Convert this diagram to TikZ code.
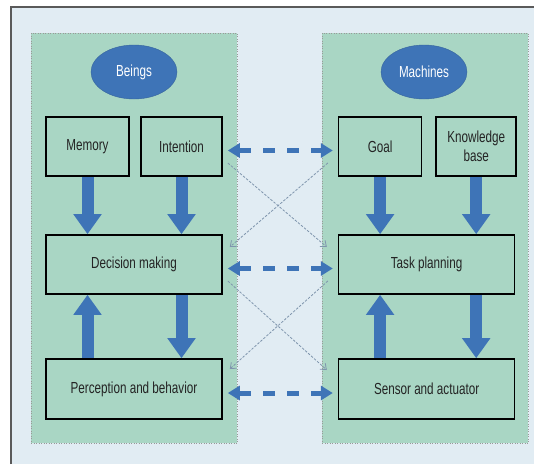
\documentclass[tikz,border=0pt]{standalone}
\usepackage{fontspec}
\setmainfont{Liberation Sans}[FakeStretch=0.73]
\usepackage{tikz}
\usetikzlibrary{arrows.meta,positioning,shapes.geometric}
\usepackage{xcolor}
\definecolor{bgblue}{HTML}{E1ECF3}
\definecolor{panelgreen}{HTML}{A9D6C4}
\definecolor{boxblue}{HTML}{3E74B7}
\definecolor{crossgray}{HTML}{7F95AD}
\definecolor{textgray}{HTML}{242424}
\definecolor{framegray}{HTML}{5A5A5A}

\begin{document}
\begin{tikzpicture}[x=1pt,y=-1pt,node distance=115pt,
                    font=\fontsize{16}{19}\selectfont]
  \tikzstyle{box}=[draw=black,line width=1.6pt,fill=panelgreen,text=textgray,
                   minimum height=59pt,inner sep=2pt,align=center]
  \tikzstyle{title}=[ellipse,fill=boxblue,draw=boxblue!85!black,text=white,
                     minimum width=86pt,minimum height=54pt,inner sep=0pt]
  \tikzstyle{fat}=[boxblue,line width=12pt,-{Triangle[width=27pt,length=20pt]}]
  \tikzstyle{link}=[boxblue,line width=5pt,dash pattern=on 12pt off 12pt,
                    shorten >=5pt,shorten <=5pt,
                    {Triangle[width=14pt,length=12pt]}-{Triangle[width=14pt,length=12pt]}]
  \tikzstyle{cross}=[crossgray,line width=0.8pt,dash pattern=on 2.5pt off 1.5pt,
                     -{Straight Barb[length=5pt,width=8pt]}]
  \tikzstyle{panel}=[fill=panelgreen,draw=gray!80,dotted,line width=0.5pt]

  \useasboundingbox (0,0) rectangle (534,464);
  \fill[bgblue] (11,7) rectangle (534,464);
  \draw[framegray,line width=1.2pt] (11,464) -- (11,7) -- (534,7);
  \draw[panel] (31,33) rectangle (237,443);
  \draw[panel] (322,33) rectangle (528,443);

  \node[title] (X) at (134,72) {Beings};
  \node[title] (Y) at (424,72) {Machines};

  \node[box,minimum width=83pt] (A) at (87.5,146.5) {Memory};
  \node[box,minimum width=81pt] (B) at (181.5,146.5) {Intention};
  \node[box,minimum width=176pt] (C) at (134,264.5) {Decision making};
  \node[box,minimum width=176pt,minimum height=60pt] (E) at (134,389) {Perception and behavior};

  \node[box,minimum width=83pt] (G) [right=of B] {Goal};
  \node[box,minimum width=80pt] (K) [right=13pt of G] {Knowledge\\base};
  \node[box,minimum width=176pt] (T) [right=of C] {Task planning};
  \node[box,minimum width=176pt,minimum height=60pt] (S) [right=of E] {Sensor and actuator};

  % inside each side
  \draw[fat] (A.south) -- (A.south |- C.north);
  \draw[fat] (B.south) -- (B.south |- C.north);
  \draw[fat] (C.south -| B.south) -- (B.south |- E.north);
  \draw[fat] (E.north -| A.south) -- (A.south |- C.south);
  \draw[fat] (G.south) -- (G.south |- T.north);
  \draw[fat] (K.south) -- (K.south |- T.north);
  \draw[fat] (T.south -| K.south) -- (K.south |- S.north);
  \draw[fat] (S.north -| G.south) -- (G.south |- T.south);

  % between the two sides
  \draw[link] ([yshift=-4pt]B.east) -- ([yshift=-4pt]G.west);
  \draw[link] ([yshift=-4pt]C.east) -- ([yshift=-4pt]T.west);
  \draw[link] ([yshift=-4pt]E.east) -- ([yshift=-4pt]S.west);

  \draw[cross] ([shift={(5,16.5)}]B.east) -- ([shift={(-11,-17.5)}]T.west);
  \draw[cross] ([shift={(-10,16.5)}]G.west) -- ([shift={(7,-17.5)}]C.east);
  \draw[cross] ([shift={(5,16.5)}]C.east) -- ([shift={(-11,-19)}]S.west);
  \draw[cross] ([shift={(-10,16.5)}]T.west) -- ([shift={(7,-20)}]E.east);
\end{tikzpicture}
\end{document}
